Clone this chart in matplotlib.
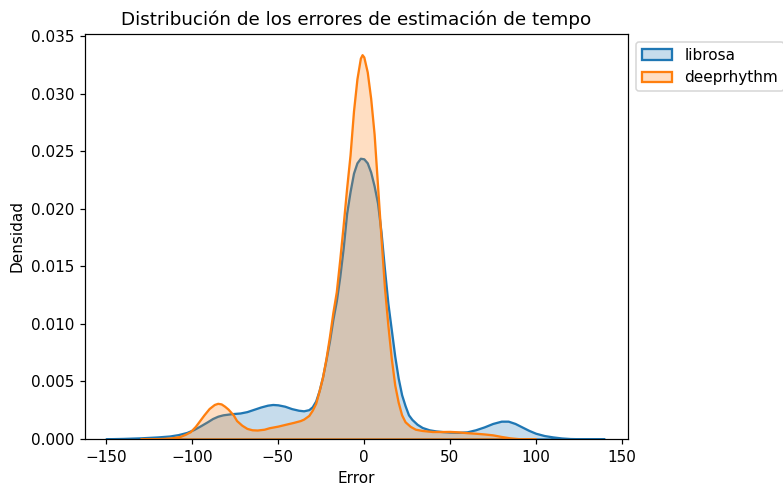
import numpy as np
import matplotlib
matplotlib.use('Agg')
import matplotlib.pyplot as plt
from matplotlib.colors import to_rgba

# density curves (x = error, y = density)
librosa_x = [-150, -140, -130, -120, -113, -108, -103, -99, -95, -91, -88, -85, -82, -77, -72, -68,
             -64, -60, -56, -53, -50, -46, -42, -38, -35, -32, -30, -28, -26, -24, -22, -20, -18, -16,
             -14, -12, -10, -8, -6, -4, -2, 0, 2, 4, 6, 8, 10, 12, 14, 16, 18, 20, 22, 24, 26, 28, 31,
             34, 38, 42, 46, 50, 55, 60, 65, 70, 75, 80, 84, 88, 92, 96, 100, 105, 110, 115, 120, 130, 140]
librosa_y = [0.00002, 0.00005, 0.00010, 0.00018, 0.00026, 0.00038, 0.00057, 0.00082, 0.00115, 0.00150,
             0.00178, 0.00198, 0.00210, 0.00220, 0.00226, 0.00238, 0.00258, 0.00278, 0.00294, 0.00300,
             0.00297, 0.00285, 0.00264, 0.00250, 0.00245, 0.00255, 0.00280, 0.00330, 0.00420, 0.00540,
             0.00690, 0.00850, 0.01040, 0.01200, 0.01410, 0.01660, 0.01960, 0.02150, 0.02310, 0.02400,
             0.02440, 0.02435, 0.02400, 0.02320, 0.02200, 0.02050, 0.01800, 0.01480, 0.01180, 0.00950,
             0.00720, 0.00530, 0.00385, 0.00290, 0.00210, 0.00170, 0.00128, 0.00100, 0.00080, 0.00070,
             0.00064, 0.00060, 0.00058, 0.00062, 0.00080, 0.00105, 0.00135, 0.00155, 0.00155, 0.00135,
             0.00105, 0.00075, 0.00050, 0.00030, 0.00018, 0.00009, 0.00004, 0.00001, 0.00000]

deeprhythm_x = [-130, -122, -117, -112, -107, -104, -101, -98, -96, -93, -90, -87, -85, -83, -81, -79,
                -76, -74, -71, -68, -65, -62, -58, -55, -50, -45, -41, -37, -35, -32, -30, -28, -26, -24,
                -22, -20, -18, -16, -14, -12, -10, -8, -6, -4, -2, -1, 0, 2, 4, 6, 8, 10, 12, 14, 16, 18,
                20, 22, 24, 27, 30, 34, 40, 45, 50, 55, 60, 65, 70, 75, 80, 85, 90, 95, 100]
deeprhythm_y = [0.00000, 0.00002, 0.00005, 0.00010, 0.00022, 0.00040, 0.00063, 0.00110, 0.00150, 0.00210,
                0.00265, 0.00300, 0.00310, 0.00305, 0.00285, 0.00260, 0.00210, 0.00160, 0.00120, 0.00092,
                0.00080, 0.00078, 0.00085, 0.00098, 0.00112, 0.00130, 0.00144, 0.00160, 0.00173, 0.00205,
                0.00250, 0.00310, 0.00420, 0.00540, 0.00700, 0.00890, 0.01100, 0.01280, 0.01560, 0.01860,
                0.02180, 0.02470, 0.02850, 0.03130, 0.03310, 0.03340, 0.03320, 0.03190, 0.02960, 0.02650,
                0.02200, 0.01750, 0.01320, 0.00990, 0.00700, 0.00470, 0.00320, 0.00210, 0.00150, 0.00110,
                0.00085, 0.00074, 0.00065, 0.00065, 0.00066, 0.00062, 0.00055, 0.00050, 0.00044, 0.00036,
                0.00022, 0.00010, 0.00003, 0.00001, 0.00000]

series = [('librosa', librosa_x, librosa_y, 'C0'),
          ('deeprhythm', deeprhythm_x, deeprhythm_y, 'C1')]

DPI = 110
fig = plt.figure(figsize=(783 / DPI, 491 / DPI), dpi=DPI)
ax = fig.add_axes([0.1086, 0.1059, 0.6934, 0.8249])

for name, xs, ys, c in series:
    ax.fill_between(xs, ys, 0, facecolor=to_rgba(c, 0.25), edgecolor=c, linewidth=1.5, label=name)

ax.set_xlim(-162.2, 153.7)
ax.set_ylim(0, 0.0352)
ax.set_xticks([-150, -100, -50, 0, 50, 100, 150])
ax.set_title('Distribución de los errores de estimación de tempo')
ax.set_xlabel('Error')
ax.set_ylabel('Densidad')
ax.legend(loc='upper left', bbox_to_anchor=(1, 1))

fig.savefig('out.png', dpi=DPI)
